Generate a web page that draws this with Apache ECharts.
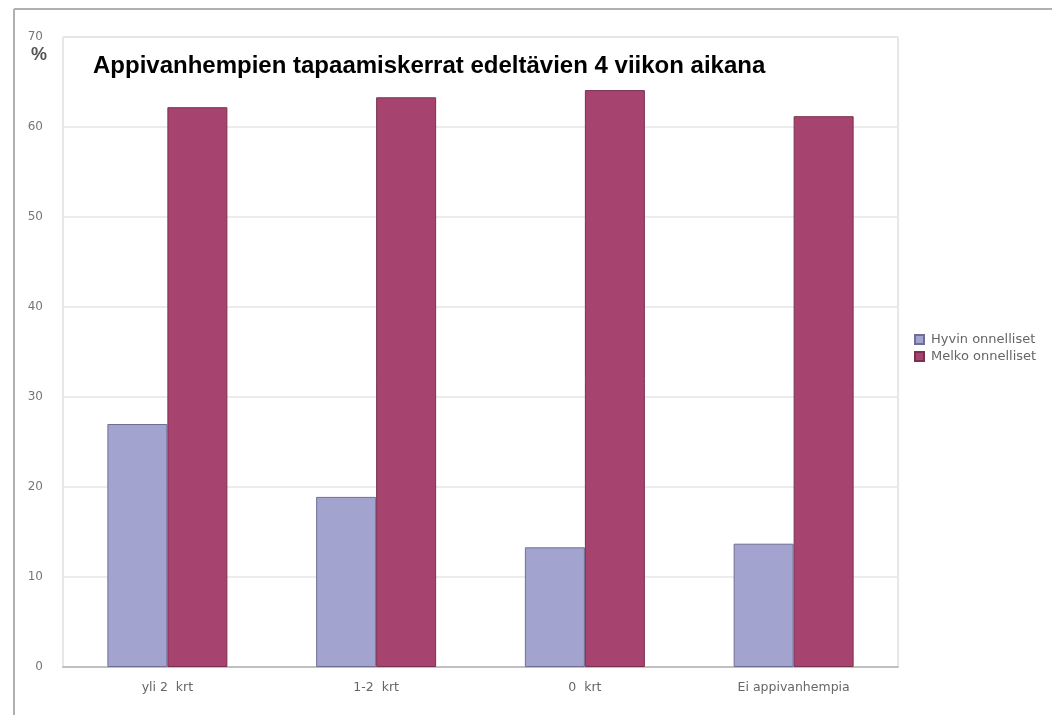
<!DOCTYPE html>
<html><head><meta charset="utf-8">
<script src="https://cdn.jsdelivr.net/npm/echarts@6/dist/echarts.min.js"></script>
<style>html,body{margin:0;padding:0;background:#fff}#c{width:1052px;height:715px}</style>
</head><body><div id="c"></div>
<script>
var categories = ['yli 2  krt', '1-2  krt', '0  krt', 'Ei appivanhempia'];
var hyvin = [27.0, 18.9, 13.3, 13.7];
var melko = [62.2, 63.3, 64.1, 61.2];
var seriesNames = ['Hyvin onnelliset', 'Melko onnelliset'];
var titleText = 'Appivanhempien tapaamiskerrat edeltävien 4 viikon aikana';

var chart = echarts.init(document.getElementById('c'));
chart.setOption({
  animation: false,
  backgroundColor: '#fff',
  title: {
    text: titleText, left: 88, top: 49,
    textStyle: { fontFamily: 'Liberation Sans, Arial', fontWeight: 'bold', fontSize: 24, color: '#000' }
  },
  legend: {
    orient: 'vertical', left: 909, top: 328, itemWidth: 9, itemHeight: 9, itemGap: 4,
    icon: 'rect',
    textStyle: { fontFamily: 'DejaVu Sans', fontSize: 13, color: '#666', padding: [0, 0, 0, 2] },
    data: seriesNames
  },
  grid: { left: 63, right: 154, top: 37, bottom: 48, show: true, borderColor: '#d0d0d0', borderWidth: 1 },
  xAxis: {
    type: 'category', data: categories,
    axisLine: { lineStyle: { color: '#c0c0c0', width: 2 } },
    axisTick: { show: false },
    axisLabel: { fontFamily: 'DejaVu Sans', fontSize: 12.5, color: '#666', margin: 14 }
  },
  yAxis: {
    type: 'value', min: 0, max: 70, interval: 10,
    axisLine: { show: false }, axisTick: { show: false },
    splitLine: { lineStyle: { color: '#e6e6e6', width: 1.5 } },
    axisLabel: { fontFamily: 'DejaVu Sans', fontSize: 12, color: '#777', margin: 20 }
  },
  graphic: [
    { type: 'line', shape: { x1: 14, y1: 9, x2: 1052, y2: 9 }, style: { stroke: '#b0b0b0', lineWidth: 2 } },
    { type: 'line', shape: { x1: 14, y1: 9, x2: 14, y2: 715 }, style: { stroke: '#b0b0b0', lineWidth: 2 } },
    { type: 'text', left: 31, top: 46, style: { text: '%', font: 'bold 18px Liberation Sans', fill: '#555' } }
  ],
  series: [
    { name: seriesNames[0], type: 'bar', data: hyvin, barWidth: 60, barGap: '0%',
      itemStyle: { color: '#a3a3cf', borderColor: '#6f6f96', borderWidth: 1 } },
    { name: seriesNames[1], type: 'bar', data: melko, barWidth: 60, barGap: '0%',
      itemStyle: { color: '#a6436f', borderColor: '#7a3050', borderWidth: 1 } }
  ]
});
</script></body></html>
